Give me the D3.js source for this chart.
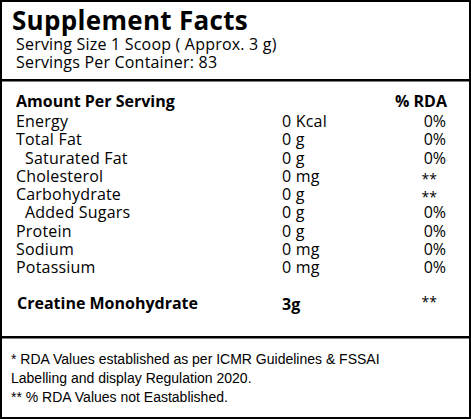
<!DOCTYPE html>
<html><head><meta charset="utf-8">
<script src="https://cdn.jsdelivr.net/npm/d3@7"></script>
<style>body{margin:0;background:#fff}</style>
</head><body>
<svg width="471" height="419"></svg>
<script>
var nutrients = ["Energy", "Total Fat", "Saturated Fat", "Cholesterol", "Carbohydrate", "Added Sugars", "Protein", "Sodium", "Potassium"];
var amounts = ["0 Kcal", "0 g", "0 g", "0 mg", "0 g", "0 g", "0 g", "0 mg", "0 mg"];
var rda = ["0%", "0%", "0%", "**", "**", "0%", "0%", "0%", "0%"];
var indented = ["Saturated Fat", "Added Sugars"];
var footnotes = ["* RDA Values established as per ICMR Guidelines & FSSAI", "Labelling and display Regulation 2020.", "** % RDA Values not Eastablished."];

var svg = d3.select("svg");
var font = "'Open Sans', sans-serif";

// frame and separators
svg.append("rect").attr("x", 1).attr("y", 1).attr("width", 469).attr("height", 417)
  .attr("fill", "none").attr("stroke", "#000").attr("stroke-width", 2);
[80, 337].forEach(function (y) {
  svg.append("rect").attr("x", 0).attr("y", y - 1).attr("width", 471).attr("height", 2.5).attr("fill", "#000");
});

function label(x, y, txt, opts) {
  opts = opts || {};
  return svg.append("text").attr("x", x).attr("y", y).attr("font-family", font)
    .attr("font-size", opts.size || 16).attr("font-weight", opts.bold ? "bold" : "normal")
    .attr("letter-spacing", opts.ls == null ? 0.2 : opts.ls)
    .attr("text-anchor", opts.anchor || "start").text(txt);
}

label(12, 30, "Supplement Facts", {size: 26, bold: true, ls: 0.3});
label(16, 50, "Serving Size 1 Scoop ( Approx. 3 g)");
label(16, 68, "Servings Per Container: 83");
label(16, 107, "Amount Per Serving", {bold: true, ls: 0});
label(447, 107, "% RDA", {bold: true, anchor: "end", ls: 0});

var y = d3.scalePoint().domain(nutrients).range([127, 273]);

var rows = svg.selectAll("g.row").data(nutrients).enter().append("g")
  .attr("transform", function (d) { return "translate(0," + y(d) + ")"; });
rows.append("text").attr("x", function (d) { return indented.indexOf(d) >= 0 ? 25 : 16; })
  .attr("font-family", font).attr("font-size", 16).attr("letter-spacing", 0.2).text(function (d) { return d; });
rows.append("text").attr("x", 282).attr("font-family", font).attr("font-size", 16).attr("letter-spacing", 0.2)
  .text(function (d, i) { return amounts[i]; });
rows.append("text")
  .attr("x", function (d, i) { return rda[i] === "**" ? 437 : 446; })
  .attr("y", function (d, i) { return rda[i] === "**" ? 2 : 0; })
  .attr("text-anchor", "end").attr("font-family", font)
  .attr("font-size", function (d, i) { return rda[i] === "**" ? 14 : 16; })
  .text(function (d, i) { return rda[i]; });

label(17, 309, "Creatine Monohydrate", {bold: true, ls: 0});
label(282, 310, "3g", {bold: true, ls: 0});
label(437, 307, "**", {size: 14, anchor: "end", ls: 0});

svg.selectAll("text.foot").data(footnotes).enter().append("text")
  .attr("x", 11).attr("y", function (d, i) { return 364 + i * 19; })
  .attr("font-family", "'Liberation Sans', Arial, sans-serif").attr("font-size", 14)
  .text(function (d) { return d; });
</script>
</body></html>
